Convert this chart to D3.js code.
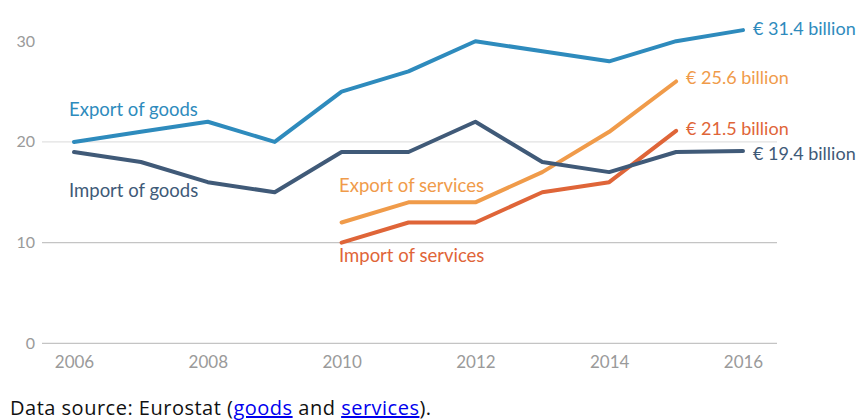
<!DOCTYPE html>
<html>
<head>
<meta charset="utf-8">
<script src="https://cdn.jsdelivr.net/npm/d3@7"></script>
<style>
  body { margin: 0; background: #fff; }
  svg { display: block; }
</style>
</head>
<body>
<div class="main"></div>
<script>
// values (EUR billion)
const years = [2006, 2007, 2008, 2009, 2010, 2011, 2012, 2013, 2014, 2015, 2016];
const exportGoods = [20, 21, 22, 20, 25, 27, 30, 29, 28, 30, 31.1];
const importGoods = [19, 18, 16, 15, 19, 19, 22, 18, 17, 19, 19.1];
const serviceYears = [2010, 2011, 2012, 2013, 2014, 2015];
const exportServices = [12, 14, 14, 17, 21, 26];
const importServices = [10, 12, 12, 15, 16, 21.1];
const yTicks = [0, 10, 20, 30];
const xTicks = [2006, 2008, 2010, 2012, 2014, 2016];
const seriesNames = ["Export of goods", "Import of goods", "Export of services", "Import of services"];
const endLabels = ["€ 31.4 billion", "€ 19.4 billion", "€ 25.6 billion", "€ 21.5 billion"];

let width = 861, height = 420;

let svg = d3.select("div.main").append("svg")
  .attr("width", width)
  .attr("height", height);

let x = d3.scaleLinear().domain([2006, 2016]).range([74, 743]);
let y = d3.scaleLinear().domain([0, 30]).range([343.3, 41.2]);

let font = "Lato, 'Open Sans', sans-serif";

// gridlines (no line at 30 in the original, 20 is lighter)
svg.append("g").selectAll("line")
  .data(yTicks.filter(d => d < 30))
  .enter().append("line")
  .attr("x1", 42).attr("x2", 777)
  .attr("y1", d => y(d)).attr("y2", d => y(d))
  .attr("stroke", d => d == 20 ? "#e2e2e2" : "#c4c4c4")
  .attr("stroke-width", 1.3);

// y tick labels
svg.append("g").selectAll("text")
  .data(yTicks)
  .enter().append("text")
  .attr("x", 35)
  .attr("y", d => y(d) + 5.5)
  .attr("text-anchor", "end")
  .attr("font-family", font)
  .attr("font-size", 16)
  .attr("fill", "#9a9a9a")
  .text(d => d);

// x tick labels
let xAxis = d3.axisBottom(x).tickValues(xTicks).tickFormat(d3.format("d")).tickSize(0).tickPadding(0);
let gx = svg.append("g").attr("transform", "translate(0,356)").call(xAxis);
gx.select(".domain").remove();
gx.selectAll("text")
  .attr("font-family", font)
  .attr("font-size", 17)
  .attr("fill", "#9a9a9a")
  .attr("dy", "0.71em");

let colors = ["#2e8bbd", "#405a78", "#f09b4a", "#df6538"];
let series = [
  { xs: years, vals: exportGoods },
  { xs: years, vals: importGoods },
  { xs: serviceYears, vals: exportServices },
  { xs: serviceYears, vals: importServices }
];

let line = d3.line()
  .x(d => x(d[0]))
  .y(d => y(d[1]));

// draw order: services first, goods on top
[3, 2, 1, 0].forEach(function(i) {
  let s = series[i];
  let pts = s.xs.map((yr, j) => [yr, s.vals[j]]);
  svg.append("path")
    .attr("d", line(pts))
    .attr("fill", "none")
    .attr("stroke", colors[i])
    .attr("stroke-width", 4)
    .attr("stroke-linejoin", "round")
    .attr("stroke-linecap", "round");
});

// series names
let namePos = [[69, 116], [69, 197], [339, 192], [339, 262]];
seriesNames.forEach(function(n, i) {
  svg.append("text")
    .attr("x", namePos[i][0])
    .attr("y", namePos[i][1])
    .attr("font-family", font)
    .attr("font-size", 18.5)
    .attr("fill", colors[i])
    .text(n);
});

// end labels
let endPos = [[753, 35], [753, 160], [686, 84], [686, 135]];
endLabels.forEach(function(t, i) {
  svg.append("text")
    .attr("x", endPos[i][0])
    .attr("y", endPos[i][1])
    .attr("font-family", font)
    .attr("font-size", 18)
    .attr("fill", colors[i])
    .text(t);
});

// footer
let foot = svg.append("text")
  .attr("x", 10)
  .attr("y", 415)
  .attr("font-family", "'Open Sans', sans-serif")
  .attr("font-size", 20)
  .attr("letter-spacing", 0.5)
  .attr("fill", "#111");
foot.append("tspan").text("Data source: Eurostat (");
foot.append("tspan").attr("fill", "#0000ee").attr("text-decoration", "underline").text("goods");
foot.append("tspan").text(" and ");
foot.append("tspan").attr("fill", "#0000ee").attr("text-decoration", "underline").text("services");
foot.append("tspan").text(").");
</script>
</body>
</html>
